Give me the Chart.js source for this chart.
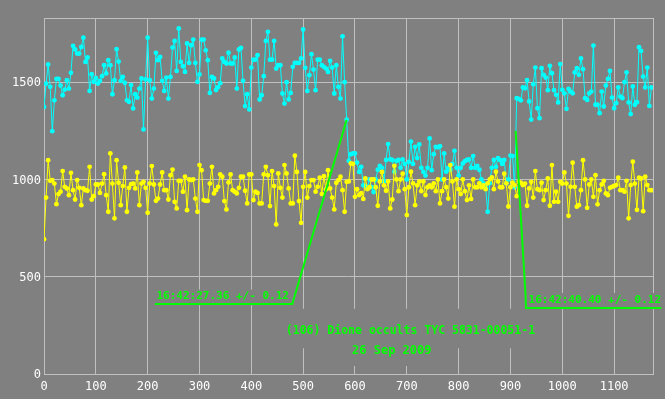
<!DOCTYPE html>
<html><head><meta charset="utf-8">
<script src="https://cdn.jsdelivr.net/npm/chart.js@4/dist/chart.umd.min.js"></script>
<style>html,body{margin:0;padding:0;background:#808080;overflow:hidden}</style>
</head><body>
<canvas id="c" width="665" height="399"></canvas>
<script>
// ---- data ----
const frameStep = 4; // frame spacing between measurements
const cyanCounts = [
 1373,1493,1591,1476,1248,1407,1517,1517,1483,1433,1462,1510,1467,1548,1687,1668,1647,1647,1681,1729,
 1604,1627,1455,1541,1502,1522,1493,1507,1531,1587,1545,1613,1587,1438,1510,1670,1606,1507,1527,1497,
 1407,1399,1485,1365,1438,1421,1467,1519,1257,1514,1729,1510,1416,1467,1651,1613,1630,1507,1455,1524,
 1416,1527,1678,1712,1558,1776,1604,1582,1553,1699,1599,1690,1719,1599,1502,
 1540,1719,1719,1664,1613,1445,1527,1519,1460,1475,1495,1622,1604,1596,1652,1596,1596,1627,1467,1668,
 1676,1507,1377,1438,1360,1575,1616,1616,1639,1411,1433,1531,1712,1759,1616,1616,1712,1570,1587,1587,
 1442,1390,1500,1411,1445,1579,1599,1599,1599,1622,1771,1574,1455,1536,1644,1565,1459,1616,1616,1587,
 1579,1570,1553,1610,1575,1442,1587,1476,1416,1736,1500,1307,
 1096,1130,1134,1134,1087,1039,1065,970,965,960,1000,960,935,1000,1050,1070,1060,990,1100,1182,
 1103,1100,1040,1096,1100,1060,1103,1080,1000,1090,1195,1080,1168,1110,1180,1060,1039,1020,1060,1211,
 1048,1130,1168,1165,1171,1000,1134,1040,1060,1050,1080,1147,1060,1020,1060,1082,1094,1100,1103,1060,
 1120,1060,1070,1050,1000,980,960,834,980,1060,1100,1065,1110,1099,1080,1100,980,1000,1123,1120,960,
 1418,1414,1407,1473,1469,1510,1401,1308,1490,1575,1366,1315,1572,1538,1524,1459,1584,1546,1459,1435,
 1396,1593,1461,1443,1363,1466,1452,1443,1550,1572,1538,1622,1567,1418,1409,1443,1452,1688,1384,1384,
 1341,1452,1375,1483,1517,1558,1421,1366,1392,1473,1426,1418,1500,1551,1396,1336,1478,1384,1397,1680,
 1661,1529,1473,1575,1378,1473
];
const yellowCounts = [
 693,907,1099,993,997,979,873,925,937,1043,962,954,919,1034,945,897,997,957,868,954,
 945,942,1065,897,914,974,974,931,979,1027,919,834,1134,979,800,1099,983,868,966,1062,
 834,957,976,979,954,1036,868,979,988,957,829,979,1069,974,890,902,974,1036,945,945,
 897,1022,1051,885,851,993,993,937,1014,842,1000,997,1000,902,834,
 1074,1048,894,890,890,979,1065,928,945,962,1026,1014,889,846,985,1026,945,937,928,957,
 1014,1014,942,877,1026,1026,894,937,931,877,877,1026,1065,1022,863,1043,966,769,1031,957,
 907,1074,1031,954,877,877,1122,1039,889,777,962,1039,907,966,997,997,937,962,1009,925,
 1017,949,1048,954,907,846,983,997,1014,945,834,988,
 990,1082,1080,911,950,920,930,900,1005,950,960,1000,1000,960,865,990,1039,970,942,990,
 851,897,1070,1000,940,1000,1030,950,817,960,1040,980,868,970,990,940,990,920,960,970,
 960,980,940,1000,877,940,1000,960,902,1074,990,860,1000,950,925,1000,940,894,970,900,
 1000,960,960,980,960,970,950,980,1000,1010,950,1040,990,960,960,1030,980,861,960,
 983,971,914,988,983,971,979,865,954,988,907,1043,950,945,983,894,945,1005,865,1074,
 885,937,885,988,979,1036,979,813,962,1086,962,860,868,945,1099,1000,854,974,1000,911,
 1022,872,945,974,993,928,919,957,962,967,971,1009,945,945,937,993,800,971,1091,979,
 844,1009,1005,837,1014,971,945,945
];
const ingressFit = [{x:214,y:360},{x:479,y:360},{x:584,y:1307}];
const egressFit  = [{x:910,y:1250},{x:929,y:410},{x:930,y:339},{x:1191,y:339}];
const xTickValues = [0,100,200,300,400,500,600,700,800,900,1000,1100];
const yTickValues = [0,500,1000,1500];
const annotationTexts = [
  {text:'16:42:27.36 +/- 0.12', x:217, y:385, align:'left',   size:11,   boxUp:9.5, boxDown:6},
  {text:'16:42:40.40 +/- 0.12', x:935, y:365, align:'left',   size:11,   boxUp:10,  boxDown:5},
  {text:'(106) Dione occults TYC 5831-00051-1', x:707, y:207, align:'center', size:11.5, boxUp:25, boxDown:14.5},
  {text:'26 Sep 2009', x:671, y:103, align:'center', size:12, boxUp:14, boxDown:12}
];
// ---- build ----
const toPoints = arr => arr.map((v, i) => ({x: i * frameStep, y: v}));
const GREEN = '#00ff00', CYAN = '#00ffff', YELLOW = '#ffff00', BG = '#808080', GRID = '#c0c0c0';

const bgPlugin = {
  id: 'bg',
  beforeDraw(chart) {
    const c = chart.ctx; c.save(); c.fillStyle = BG; c.fillRect(0, 0, chart.width, chart.height); c.restore();
  },
  beforeDatasetsDraw(chart) {
    const c = chart.ctx, a = chart.chartArea;
    c.save();
    c.strokeStyle = GRID; c.lineWidth = 1;
    c.strokeRect(Math.round(a.left) + 0.5, Math.round(a.top) + 0.5, Math.round(a.right - a.left), Math.round(a.bottom - a.top));
    const xs = chart.scales.x, ys = chart.scales.y;
    annotationTexts.forEach(t => {
      c.font = 'bold ' + t.size + 'px "DejaVu Sans Mono"';
      const w = c.measureText(t.text).width;
      const px = xs.getPixelForValue(t.x), py = ys.getPixelForValue(t.y);
      const left = t.align === 'center' ? px - w / 2 : px;
      c.fillStyle = BG;
      c.fillRect(left - 2, py - t.boxUp, w + 4, t.boxUp + t.boxDown);
    });
    c.restore();
  },
  afterDatasetsDraw(chart) {
    const c = chart.ctx, xs = chart.scales.x, ys = chart.scales.y;
    c.save();
    annotationTexts.forEach(t => {
      c.font = 'bold ' + t.size + 'px "DejaVu Sans Mono"';
      c.fillStyle = GREEN; c.textAlign = t.align; c.textBaseline = 'alphabetic';
      c.fillText(t.text, xs.getPixelForValue(t.x), ys.getPixelForValue(t.y));
    });
    c.restore();
  }
};

const plainTick = v => String(v);

new Chart(document.getElementById('c'), {
  type: 'line',
  data: {
    datasets: [
      {data: ingressFit, borderColor: GREEN, borderWidth: 2, pointRadius: 0, clip: false, tension: 0},
      {data: egressFit, borderColor: GREEN, borderWidth: 2, pointRadius: 0, clip: false, tension: 0},
      {data: toPoints(yellowCounts), borderColor: YELLOW, backgroundColor: YELLOW, borderWidth: 1,
       pointRadius: 2.4, pointBorderWidth: 0, pointBackgroundColor: YELLOW, tension: 0},
      {data: toPoints(cyanCounts), borderColor: CYAN, backgroundColor: CYAN, borderWidth: 1,
       pointRadius: 2.4, pointBorderWidth: 0, pointBackgroundColor: CYAN, tension: 0}
    ]
  },
  options: {
    responsive: false, animation: false, devicePixelRatio: 1,
    layout: {padding: {top: 18, right: 12, left: 0, bottom: 0}},
    plugins: {legend: {display: false}, tooltip: {enabled: false}},
    elements: {line: {borderJoinStyle: 'miter'}},
    scales: {
      x: {
        type: 'linear', min: 0, max: 1175,
        afterBuildTicks: s => { s.ticks = xTickValues.map(v => ({value: v})); },
        afterFit: s => { s.height = 25; },
        ticks: {color: '#ffffff', font: {family: 'DejaVu Sans Mono', size: 12}, padding: 6, maxRotation: 0, autoSkip: false, callback: plainTick},
        grid: {color: GRID, drawTicks: false, lineWidth: 1},
        border: {display: false}
      },
      y: {
        type: 'linear', min: 0, max: 1830,
        afterBuildTicks: s => { s.ticks = yTickValues.map(v => ({value: v})); },
        afterFit: s => { s.width = 44; },
        ticks: {color: '#ffffff', font: {family: 'DejaVu Sans Mono', size: 12}, padding: 3, labelOffset: 1, callback: plainTick},
        grid: {color: GRID, drawTicks: false, lineWidth: 1},
        border: {display: false}
      }
    }
  },
  plugins: [bgPlugin]
});
</script>
</body></html>
